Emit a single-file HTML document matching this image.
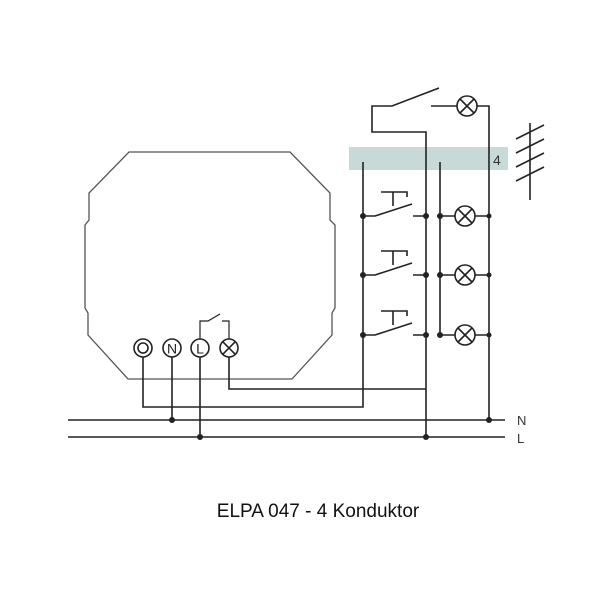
<!DOCTYPE html>
<html><head><style>body{margin:0;background:#fff}svg{display:block}</style></head><body>
<svg width="600" height="600" viewBox="0 0 600 600" xmlns="http://www.w3.org/2000/svg">
<rect x="349" y="147" width="159" height="23" fill="#c7dad7"/>
<text x="493" y="165" font-family="Liberation Sans, sans-serif" font-size="14" fill="#333">4</text>
<path d="M129 152 H290 L330 193 V220 L335 225 V308 L332 313 V335 L292 379 H128 L88 335 V313 L85 308 V225 L89 220 V193 Z" fill="none" stroke="#555" stroke-width="1.3"/>
<g fill="none" stroke="#222" stroke-width="1.6">
<circle cx="143" cy="348" r="9"/><circle cx="143" cy="348" r="5"/>
<circle cx="172" cy="348" r="9"/>
<circle cx="200" cy="348" r="9"/>
<circle cx="229" cy="348" r="9"/>
<path d="M222.6 341.6 L235.4 354.4 M235.4 341.6 L222.6 354.4"/>
<path d="M200 339 V321 H208 L220 314 M222 321 H229 V339" stroke-width="1.2"/>
<path d="M143 357 V407 H363 V162"/>
<path d="M172 357 V420"/>
<path d="M200 357 V437"/>
<path d="M229 357 V389 H426"/>
<path d="M426 437 V132 H372 V106 H392 L439 88"/>
<path d="M431 106 H457 M477 106 H489 V420"/>
<circle cx="467" cy="106" r="10"/>
<path d="M460 99 L474 113 M474 99 L460 113"/>
<path d="M440 162 V335"/>
<path d="M68 420 H505 M68 437 H505"/>
<path d="M530 123 V200 M516 139 L544 125 M516 153 L544 139 M516 167 L544 153 M516 181 L544 167"/>
</g>
<text x="172" y="353.5" text-anchor="middle" font-family="Liberation Sans, sans-serif" font-size="14" fill="#222">N</text>
<text x="200" y="353.5" text-anchor="middle" font-family="Liberation Sans, sans-serif" font-size="14" fill="#222">L</text>
<g fill="none" stroke="#222" stroke-width="1.6">
<g id="row">
<path d="M363 216 H375 L412 204 M413 216 H426"/>
<path d="M381 192 H407 V197 M393 192 V206"/>
<path d="M440 216 H455 M475 216 H489"/>
<circle cx="465" cy="216" r="10"/>
<path d="M458 209 L472 223 M472 209 L458 223"/>
</g>
<use href="#row" y="59"/>
<use href="#row" y="119"/>
</g>
<g fill="#222">
<circle cx="363" cy="216" r="3"/><circle cx="426" cy="216" r="3"/><circle cx="440" cy="216" r="3"/><circle cx="489" cy="216" r="2.5"/>
<circle cx="363" cy="275" r="3"/><circle cx="426" cy="275" r="3"/><circle cx="440" cy="275" r="3"/><circle cx="489" cy="275" r="2.5"/>
<circle cx="363" cy="335" r="3"/><circle cx="426" cy="335" r="3"/><circle cx="440" cy="335" r="3"/><circle cx="489" cy="335" r="2.5"/>
<circle cx="172" cy="420" r="3"/><circle cx="489" cy="420" r="3"/>
<circle cx="200" cy="437" r="3"/><circle cx="426" cy="437" r="3"/>
</g>
<text x="517" y="425" font-family="Liberation Sans, sans-serif" font-size="13" fill="#333">N</text>
<text x="517" y="443" font-family="Liberation Sans, sans-serif" font-size="13" fill="#333">L</text>
<text x="318" y="517" text-anchor="middle" font-family="Liberation Sans, sans-serif" font-size="19" fill="#111">ELPA 047 - 4 Konduktor</text>
</svg>
</body></html>
